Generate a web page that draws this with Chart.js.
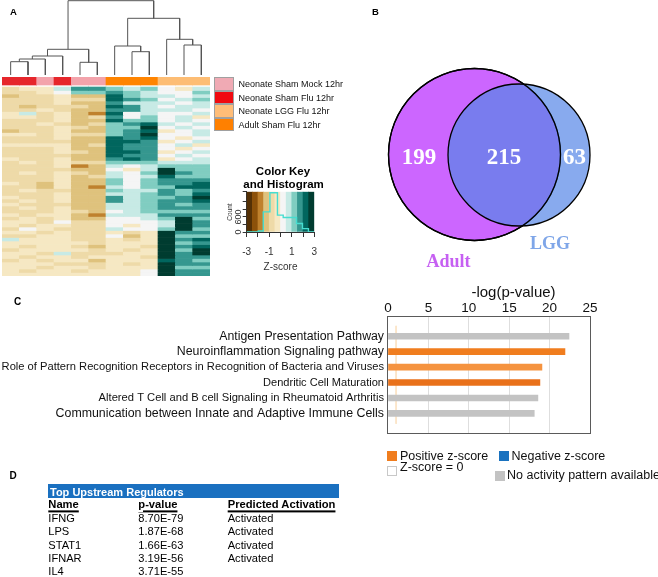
<!DOCTYPE html>
<html>
<head>
<meta charset="utf-8">
<script src="https://cdn.jsdelivr.net/npm/chart.js@4.4.1/dist/chart.umd.min.js"></script>
<style>
  body { margin: 0; background: #fff; font-family: "Liberation Sans", Arial, sans-serif; }
  #page { position: relative; width: 658px; height: 577px; overflow: hidden; background: #fff; }
  #page canvas { position: absolute; }
  .t { position: absolute; white-space: nowrap; line-height: 1; z-index: 2; }
  .box { position: absolute; box-sizing: border-box; }
</style>
</head>
<body>
<div id="page">
  <canvas id="dendro" width="208" height="75" style="left:2px;top:0px"></canvas>
  <canvas id="heat" width="208" height="199" style="left:2px;top:77px"></canvas>
  <canvas id="key" width="84" height="72" style="left:236px;top:188px"></canvas>
  <canvas id="venn" width="440" height="410" style="left:270px;top:-50px"></canvas>
  <canvas id="bars" width="600" height="165" style="left:0px;top:280px"></canvas>
</div>
<script>
// ── Panel A: heatmap data (z-scores, rows top→bottom, 12 samples) ───────────
const SAMPLES = ['N1', 'N2', 'N3', 'N4', 'N5', 'N6', 'A1', 'A2', 'A3', 'L1', 'L2', 'L3'];
const SAMPLE_GROUP = ['flu', 'flu', 'mock', 'flu', 'mock', 'mock', 'adult', 'adult', 'adult', 'lgg', 'lgg', 'lgg'];
const GROUP_NAMES = ['Neonate Sham Mock 12hr', 'Neonate Sham Flu 12hr', 'Neonate LGG Flu 12hr', 'Adult Sham Flu 12hr'];
const GROUP_COLORS = { mock: '#f3a3ab', flu: '#e6262b', lgg: '#fdbd74', adult: '#ff8400' };
const LEGEND_COLORS = ['#f0aab4', '#f00a10', '#ffbd78', '#ff8000'];

const ZSCORES = [
  [-0.6, -0.5, -0.2, 0.6, 1.9, 1.7, 1.4, 0.7, 1.1, 0.1, -0.3, 0.9],
  [-0.9, -0.7, -0.5, 0.2, 1.2, 1.0, 1.8, 1.2, 0.8, 0.4, 0.2, 1.1],
  [-1.1, -0.9, -0.6, -0.4, -1.2, -1.3, 2.3, 1.3, 0.9, 0.6, 0.3, 0.8],
  [-0.7, -0.9, -0.8, -0.5, -0.9, -1.0, 2.1, 1.6, 1.2, 0.3, 0.7, 1.3],
  [-0.9, -0.6, -0.6, -0.3, -1.1, -1.2, 1.7, 0.9, 0.6, 0.7, 0.2, 0.5],
  [-0.6, -1.1, -0.9, -0.7, -1.0, -1.4, 2.2, 1.5, 0.9, 0.2, 0.6, 0.9],
  [-0.8, -0.7, -0.5, -0.6, -1.3, -1.1, 1.6, 1.7, 0.7, 0.5, 0.8, 0.4],
  [-0.1, 0.5, -0.6, -0.4, -1.2, -1.7, 2.0, 0.1, 0.8, 0.4, 0.3, 0.7],
  [-0.3, -0.4, -0.7, -0.5, -1.1, -1.0, 1.9, 0.4, 1.0, 0.1, 0.6, -0.2],
  [-0.8, -0.9, -0.7, -0.4, -1.4, -1.2, 2.3, 1.4, 1.2, 0.2, 0.5, 0.3],
  [-1.0, -0.6, -0.5, -0.6, -1.1, -1.0, 1.3, 1.5, 2.3, 0.5, 0.3, 0.6],
  [-0.7, -0.8, -0.9, -0.4, -0.9, -1.3, 1.1, 1.2, 2.6, 0.0, 0.8, 0.4],
  [-1.2, -0.7, -0.6, -0.5, -1.2, -1.1, 1.2, 1.7, 2.4, -0.3, 0.4, 0.9],
  [-0.5, -0.4, -0.8, -0.3, -1.0, -0.9, 1.0, 1.6, 2.5, 0.3, 0.1, 0.5],
  [-0.7, -0.6, -0.6, -0.5, -1.3, -1.2, 2.1, 1.8, 2.2, 0.4, -0.4, 0.2],
  [-0.6, -0.8, -0.7, -0.6, -1.1, -1.4, 2.3, 2.0, 1.9, -0.2, 0.2, 0.6],
  [-0.4, -0.5, -0.5, -0.4, -1.2, -1.0, 2.0, 1.9, 1.7, 0.4, 0.6, -0.3],
  [-0.8, -0.7, -0.9, -0.5, -1.4, -1.3, 2.2, 1.7, 1.9, 0.1, -0.2, 0.3],
  [-0.6, -0.9, -0.6, -0.3, -1.0, -1.1, 2.4, 2.1, 1.6, -0.3, 0.3, 0.7],
  [-0.9, -0.6, -0.7, -0.6, -1.3, -1.5, 2.1, 1.8, 1.8, 0.2, 0.5, 0.4],
  [-0.5, -0.7, -0.8, -0.4, -1.1, -1.2, 1.9, 2.0, 1.5, -0.1, 0.0, 0.6],
  [-0.7, -0.5, -0.6, -0.3, -0.9, -1.0, 1.3, 1.0, 1.2, 0.6, 0.9, 0.8],
  [-0.8, -0.6, -0.9, -0.5, -1.7, -1.2, 0.6, 0.1, 0.9, 1.2, 1.0, 1.3],
  [-0.6, -0.8, -0.7, -0.6, -1.2, -1.4, 0.4, -0.1, 0.8, 2.6, 1.4, 1.1],
  [-0.9, -0.5, -1.0, -0.4, -1.0, -1.1, 0.8, 0.2, 1.0, 2.7, 1.6, 1.4],
  [-0.6, -0.7, -0.6, -0.3, -1.1, -0.9, 0.5, 0.0, 0.7, 2.3, 1.3, 1.2],
  [-0.7, -0.9, -0.8, -0.5, -1.2, -1.3, 1.0, 0.4, 1.1, 1.5, 1.7, 1.6],
  [-0.5, -0.6, -1.1, -0.4, -1.3, -1.4, 1.1, 0.3, 1.3, 1.7, 1.9, 2.0],
  [-0.8, -0.7, -1.2, -0.2, -1.2, -1.7, 0.9, 0.1, 1.0, 1.4, 2.0, 2.3],
  [-0.6, -0.5, -0.9, -0.6, -1.4, -1.3, 1.2, 0.5, 0.9, 1.8, 1.4, 1.7],
  [-0.9, -0.8, -1.0, -0.5, -1.3, -1.2, 0.7, 0.7, 1.2, 1.6, 1.2, 2.1],
  [-0.4, -0.6, -0.7, -0.3, -1.2, -1.5, 1.6, 0.9, 1.4, 1.3, 1.7, 2.6],
  [-0.7, -0.4, -0.8, -0.4, -1.5, -1.3, 1.7, 0.6, 1.1, 1.9, 1.5, 2.3],
  [-0.5, -0.7, -0.6, -0.6, -1.1, -1.2, 0.9, 0.8, 1.3, 1.5, 1.1, 1.5],
  [-0.8, -0.5, -0.9, -0.3, -1.2, -1.1, 0.6, 0.5, 1.0, 1.7, 1.6, 1.9],
  [-0.6, -0.8, -0.7, -0.5, -1.0, -1.3, 0.4, 0.9, 1.2, 1.4, 1.3, 1.4],
  [-0.4, -0.6, -0.5, -0.4, -1.3, -1.7, 0.7, 0.6, 0.8, 1.6, 1.8, 1.7],
  [-0.7, -0.5, -0.6, -0.2, -1.1, -1.2, 0.3, 0.4, 0.9, 1.3, 2.6, 1.2],
  [-0.5, -0.4, -0.7, 0.0, -0.8, -0.9, 0.1, 0.3, 0.2, 0.8, 2.8, 1.5],
  [-0.3, -0.6, -0.5, -0.4, -0.7, -1.0, 0.2, -0.2, 0.1, 0.6, 2.7, 1.8],
  [-0.6, 0.3, -0.4, -0.6, -0.6, -0.8, 0.5, 0.0, 0.3, 1.1, 2.5, 1.3],
  [-0.5, -0.5, -0.6, -0.3, -0.8, -0.7, -0.2, -0.7, -0.1, 2.5, 1.5, 1.8],
  [-0.7, -0.6, -0.3, -0.5, -0.6, -0.9, 0.4, -1.2, -0.3, 2.7, 1.3, 1.4],
  [0.6, -0.4, -0.5, -0.4, -0.7, -0.6, -0.3, -0.8, -0.4, 2.6, 1.6, 2.0],
  [-0.5, -0.3, -0.4, -0.5, -0.5, -0.8, -0.4, -0.5, -0.3, 2.8, 1.4, 1.7],
  [-0.4, -0.6, -0.2, -0.3, -0.6, -1.2, -0.5, -0.3, -0.6, 2.5, 1.7, 2.4],
  [-0.6, -0.4, -0.5, -0.4, -0.5, -0.7, -0.3, -0.6, -0.5, 2.7, 1.2, 2.7],
  [-0.5, -0.5, -0.6, 0.7, -0.7, -0.6, -0.6, -0.4, -0.4, 2.9, 1.8, 2.6],
  [-0.3, -0.6, -0.4, -0.5, -0.6, -0.5, -0.4, -0.5, -0.6, 2.6, 1.5, 1.6],
  [-0.6, -0.4, -0.7, -0.3, -0.4, -1.1, -0.3, -0.4, -0.5, 2.4, 1.9, 1.4],
  [-0.4, -0.5, -0.4, -0.6, -0.7, -0.6, -0.5, -0.6, -0.3, 2.8, 1.6, 1.8],
  [-0.5, -0.3, -0.6, -0.2, -0.5, -0.7, -0.4, -0.3, -0.2, 2.7, 1.4, 1.3],
  [-0.3, -0.6, -0.4, -0.5, -0.6, -0.4, -0.5, -0.5, 0.1, 2.9, 1.7, 1.6],
  [-0.5, -0.4, -0.5, -0.3, -0.4, -0.5, -0.4, -0.4, 0.2, 2.6, 1.5, 1.5]
];

// colour key: 12 bins of 0.5 from -3 to 3 (BrBG)
const KEY_BREAKS = [-3, -2.5, -2, -1.5, -1, -0.5, 0, 0.5, 1, 1.5, 2, 2.5];
const KEY_COLORS = ['#543005', '#8c510a', '#bf812d', '#dfc27d', '#eedaa8', '#f6e8c3',
                    '#f5f5f5', '#c7eae5', '#80cdc1', '#35978f', '#01665e', '#003c30'];
const KEY_MAX = 1600;
const HIST_EDGES = [-3, -1.97, -1.53, -0.94, -0.27, 0.24, 1.42, 1.95, 2.48, 3];
const HIST_COUNTS = [0, 40, 800, 1560, 670, 575, 335, 135, 0, 0];

// dendrogram merges: [left x, left height], [right x, right height], merge height
const MERGES = [
  [[0.5, 0], [1.5, 0], 13.3],
  [[1.0, 13.3], [2.5, 0], 16.0],
  [[1.75, 16.0], [3.5, 0], 19.0],
  [[4.5, 0], [5.5, 0], 12.7],
  [[2.625, 19.0], [5.0, 12.7], 25.7],
  [[7.5, 0], [8.5, 0], 23.3],
  [[6.5, 0], [8.0, 23.3], 29.0],
  [[10.5, 0], [11.5, 0], 30.0],
  [[9.5, 0], [11.0, 30.0], 35.7],
  [[7.25, 29.0], [10.25, 35.7], 56.7],
  [[3.81, 25.7], [8.75, 56.7], 74.3]
];

// ── Panel B: Venn ────────────────────────────────────────────────────────────
const VENN_SETS = ['Adult', 'LGG'];
const VENN_X = [0, 44.5];
const VENN_Y = [0, -0.5];
const VENN_R = [86, 71];
const VENN_COUNTS = [199, 215, 63];

// ── Panel C: pathways ───────────────────────────────────────────────────────
const PATHWAYS = [
  'Antigen Presentation Pathway',
  'Neuroinflammation Signaling pathway',
  'Role of Pattern Recognition Receptors in Recognition of Bacteria and Viruses',
  'Dendritic Cell Maturation',
  'Altered T Cell and B cell Signaling in Rheumatoid Arthritis',
  'Communication between Innate and Adaptive Immune Cells'
];
const LOG_P = [22.4, 21.9, 19.05, 18.8, 18.55, 18.1];
const BAR_COLORS = ['#c3c3c3', '#f07d1e', '#f5933f', '#e9711a', '#c3c3c3', '#c3c3c3'];
const LABEL_SIZES = [12.3, 12.35, 11.17, 11.05, 11.2, 12.36];
const THRESHOLD = 1.0;
const X_TICKS = [0, 5, 10, 15, 20, 25];

// ── Panel D: regulators ─────────────────────────────────────────────────────
const REG_NAMES = ['IFNG', 'LPS', 'STAT1', 'IFNAR', 'IL4'];
const REG_PVALUES = ['8.70E-79', '1.87E-68', '1.66E-63', '3.19E-56', '3.71E-55'];
const REG_ACTIVATION = ['Activated', 'Activated', 'Activated', 'Activated', ''];

Chart.defaults.font.family = '"Liberation Sans", Arial, sans-serif';
Chart.defaults.animation = false;
Chart.defaults.responsive = false;
Chart.defaults.plugins.legend.display = false;
Chart.defaults.plugins.tooltip.enabled = false;

const page = document.getElementById('page');

function addText(str, x, y, css, align) {
  const d = document.createElement('div');
  d.className = 't';
  d.textContent = str;
  d.style.cssText = `left:${x}px;top:${y}px;${css || ''}`;
  const tx = align === 'c' ? '-50%' : align === 'r' ? '-100%' : '0';
  d.style.transform = align === 'rot' ? 'translate(-50%,-50%) rotate(-90deg)' : `translate(${tx},-50%)`;
  page.appendChild(d);
  return d;
}

function addBox(x, y, w, h, css) {
  const d = document.createElement('div');
  d.className = 'box';
  d.style.cssText = `left:${x}px;top:${y}px;width:${w}px;height:${h}px;${css}`;
  page.appendChild(d);
}

function zColor(z) {
  let i = KEY_BREAKS.length - 1;
  while (i > 0 && z < KEY_BREAKS[i]) i--;
  return KEY_COLORS[i];
}

// ── panel labels ──
addText('A', 10, 12, 'font-weight:bold;font-size:9.5px');
addText('B', 372, 12, 'font-weight:bold;font-size:9.5px');
addText('C', 14, 302, 'font-weight:bold;font-size:10px');
addText('D', 9.5, 476, 'font-weight:bold;font-size:10px');

// ── dendrogram ──
new Chart(document.getElementById('dendro'), {
  type: 'scatter',
  data: {
    datasets: MERGES.map(([a, b, h]) => ({
      data: [{ x: a[0], y: a[1] }, { x: a[0], y: h }, { x: b[0], y: h }, { x: b[0], y: b[1] }],
      showLine: true, borderColor: '#555', borderWidth: 1, pointRadius: 0
    }))
  },
  options: {
    layout: { padding: 0 },
    scales: {
      x: { type: 'linear', display: false, min: 0, max: 12 },
      y: { type: 'linear', display: false, min: 0, max: 75 }
    }
  }
});

// ── heatmap (stacked unit cells, 3.5px per row) ──
const ANNOT_H = 2.29, GAP_H = 0.57, CELL_H = 1;
const heatSets = [
  { data: SAMPLES.map(() => ANNOT_H), backgroundColor: SAMPLE_GROUP.map(g => GROUP_COLORS[g]) },
  { data: SAMPLES.map(() => GAP_H), backgroundColor: 'rgba(0,0,0,0)' }
].concat(ZSCORES.map(row => ({ data: SAMPLES.map(() => CELL_H), backgroundColor: row.map(zColor) })));
heatSets.forEach(ds => { ds.barPercentage = 1; ds.categoryPercentage = 1; ds.borderWidth = 0; });

new Chart(document.getElementById('heat'), {
  type: 'bar',
  data: { labels: SAMPLES, datasets: heatSets },
  options: {
    layout: { padding: 0 },
    scales: {
      x: { stacked: true, display: false },
      y: { stacked: true, display: false, reverse: true, min: 0, max: ANNOT_H + GAP_H + ZSCORES.length * CELL_H }
    }
  }
});

// legend for heatmap groups
GROUP_NAMES.forEach((name, i) => {
  addBox(213.5, 77 + i * 13.6, 20, 13.6, `background:${LEGEND_COLORS[i]};border:1px solid #a0a0a0`);
  addText(name, 238.5, 84 + i * 13.5, 'font-size:9px;color:#111');
});

// ── colour key and histogram ──
new Chart(document.getElementById('key'), {
  type: 'bar',
  data: {
    datasets: [
      { type: 'line', data: HIST_EDGES.map((e, i) => ({ x: e, y: HIST_COUNTS[i] })), stepped: true,
        borderColor: '#46ddd0', borderWidth: 1.4, pointRadius: 0, order: 0 },
      { type: 'bar', data: KEY_BREAKS.map(b => ({ x: b + 0.25, y: KEY_MAX })), backgroundColor: KEY_COLORS,
        barPercentage: 1, categoryPercentage: 1, borderWidth: 0, order: 1 }
    ]
  },
  options: {
    layout: { padding: { top: 3.7, right: 5.7, left: 0, bottom: 0 } },
    scales: {
      x: { type: 'linear', min: -3, max: 3, offset: false,
           ticks: { stepSize: 1, autoSkip: false, maxRotation: 0, padding: 1, color: '#333',
                    font: { size: 10, lineHeight: 2.9 },
                    callback: v => (Math.abs(v) % 2 === 1 ? String(v) : '') },
           grid: { drawOnChartArea: false, drawTicks: true, tickLength: 5, color: '#333', offset: false },
           border: { display: true, color: '#333' },
           afterFit: s => { s.height = 28; } },
      y: { min: 0, max: KEY_MAX,
           ticks: { stepSize: 300, display: false },
           grid: { drawOnChartArea: false, drawTicks: true, tickLength: 4, color: '#333' },
           border: { display: true, color: '#333' },
           afterFit: s => { s.width = 10.7; } }
    }
  }
});
addText('Color Key', 283, 172, 'font-weight:bold;font-size:11.5px', 'c');
addText('and Histogram', 283.5, 184.5, 'font-weight:bold;font-size:11.5px', 'c');
addText('Z-score', 280.5, 267, 'font-size:10px;color:#333', 'c');
addText('Count', 229.5, 211.5, 'font-size:6.5px;color:#333', 'rot');
addText('600', 238, 216.7, 'font-size:9px;color:#333', 'rot');
addText('0', 238, 231.7, 'font-size:9px;color:#333', 'rot');

// ── Panel B: Venn (canvas padded by 100px so the plot area is fixed) ──
const vennPoint = i => [{ x: VENN_X[i], y: VENN_Y[i], r: VENN_R[i] }];
new Chart(document.getElementById('venn'), {
  type: 'bubble',
  data: {
    datasets: [
      { data: vennPoint(0), backgroundColor: 'rgba(0,0,0,0)', borderColor: '#000', borderWidth: 1.3, clip: false },
      { data: vennPoint(1), backgroundColor: 'rgba(85,134,231,0.7)', borderColor: '#000', borderWidth: 1.3, clip: false },
      { data: vennPoint(0), backgroundColor: '#cc66ff', borderColor: '#000', borderWidth: 1.3, clip: false }
    ]
  },
  options: {
    layout: { padding: 100 },
    scales: {
      x: { type: 'linear', display: false, min: -104.5, max: 135.5 },
      y: { type: 'linear', display: false, min: -105.5, max: 104.5 }
    }
  }
});
const vennNum = 'font-family:"Liberation Serif",serif;font-weight:bold;font-size:23px;color:#fff';
addText(String(VENN_COUNTS[0]), 419, 156, vennNum, 'c');
addText(String(VENN_COUNTS[1]), 504, 156, vennNum, 'c');
addText(String(VENN_COUNTS[2]), 574.5, 156, vennNum, 'c');
addText(VENN_SETS[0], 448.5, 260.5, 'font-family:"Liberation Serif",serif;font-weight:bold;font-size:18px;color:#c660f2', 'c');
addText(VENN_SETS[1], 550, 243, 'font-family:"Liberation Serif",serif;font-weight:bold;font-size:18px;color:#7fa6e8', 'c');

// ── Panel C: pathway bars ──
const frame = {
  id: 'frame',
  afterDraw(chart) {
    const { ctx, chartArea: a } = chart;
    ctx.save();
    ctx.strokeStyle = '#5a5a5a';
    ctx.lineWidth = 1;
    ctx.strokeRect(Math.round(a.left) - 0.5, Math.round(a.top) + 0.5, Math.round(a.right - a.left) + 1, Math.round(a.bottom - a.top) - 1);
    ctx.restore();
  }
};

new Chart(document.getElementById('bars'), {
  type: 'bar',
  data: {
    datasets: [
      { type: 'bar', indexAxis: 'y', data: LOG_P.map((v, i) => ({ x: v, y: i })), backgroundColor: BAR_COLORS,
        barThickness: 6, borderWidth: 0, order: 0 },
      { type: 'line', indexAxis: 'y', data: [{ x: THRESHOLD, y: -0.675 }, { x: THRESHOLD, y: 5.675 }],
        borderColor: '#fbe3c4', borderWidth: 1, pointRadius: 0, order: 1 }
    ]
  },
  options: {
    indexAxis: 'y',
    layout: { padding: { top: 0, right: 10, bottom: 4, left: 0 } },
    scales: {
      x: { type: 'linear', position: 'top', min: 0, max: 25,
           afterBuildTicks: s => { s.ticks = X_TICKS.map(v => ({ value: v })); },
           ticks: { color: '#111', font: { size: 13.5 }, padding: 0, maxRotation: 0 },
           grid: { drawTicks: false, color: c => (c.tick && c.tick.value === 0 ? 'rgba(0,0,0,0)' : '#dedede') },
           border: { display: false },
           afterFit: s => { s.height = 36; } },
      y: { type: 'linear', reverse: true, min: -0.675, max: 5.675,
           afterBuildTicks: s => { s.ticks = PATHWAYS.map((_, i) => ({ value: i })); },
           ticks: { color: '#111', padding: 4, callback: v => PATHWAYS[v],
                    font: c => ({ size: LABEL_SIZES[c.index] || 12.3 }) },
           grid: { display: false, drawTicks: false },
           border: { display: false },
           afterFit: s => { s.width = 388; } }
    }
  },
  plugins: [frame]
});
addText('-log(p-value)', 513.5, 290.5, 'font-size:15px;color:#111', 'c');

// legend for C
addBox(387, 451, 10, 10, 'background:#f07d1e');
addText('Positive z-score', 400, 456, 'font-size:12.5px;color:#111');
addBox(498.5, 451, 10, 10, 'background:#1a72bf');
addText('Negative z-score', 511.5, 456, 'font-size:12.5px;color:#111');
addBox(387, 466, 10, 10, 'background:#fff;border:1px solid #c8c8c8');
addText('Z-score = 0', 400, 467, 'font-size:12.5px;color:#111');
addBox(494.5, 471, 10, 10, 'background:#c3c3c3');
addText('No activity pattern available', 507, 474.5, 'font-size:12.5px;color:#111');

// ── Panel D: table ──
addBox(48, 484.3, 291, 13.6, 'background:#1a70c0');
addText('Top Upstream Regulators', 50, 491.5, 'font-weight:bold;font-size:11px;color:#fff');
const headCss = 'font-weight:bold;font-size:11.2px;color:#000;text-decoration:underline;text-decoration-thickness:1.6px;text-underline-offset:1.5px';
addText('Name', 48.3, 504.5, headCss);
addText('p-value', 138.3, 504.5, headCss);
addText('Predicted Activation', 227.7, 504.5, headCss);
REG_NAMES.forEach((n, i) => {
  const y = 519 + i * 13.25;
  addText(n, 48.3, y, 'font-size:11.1px;color:#000');
  addText(REG_PVALUES[i], 138.3, y, 'font-size:11.1px;color:#000');
  if (REG_ACTIVATION[i]) addText(REG_ACTIVATION[i], 227.7, y, 'font-size:11.1px;color:#000');
});
</script>
</body>
</html>
